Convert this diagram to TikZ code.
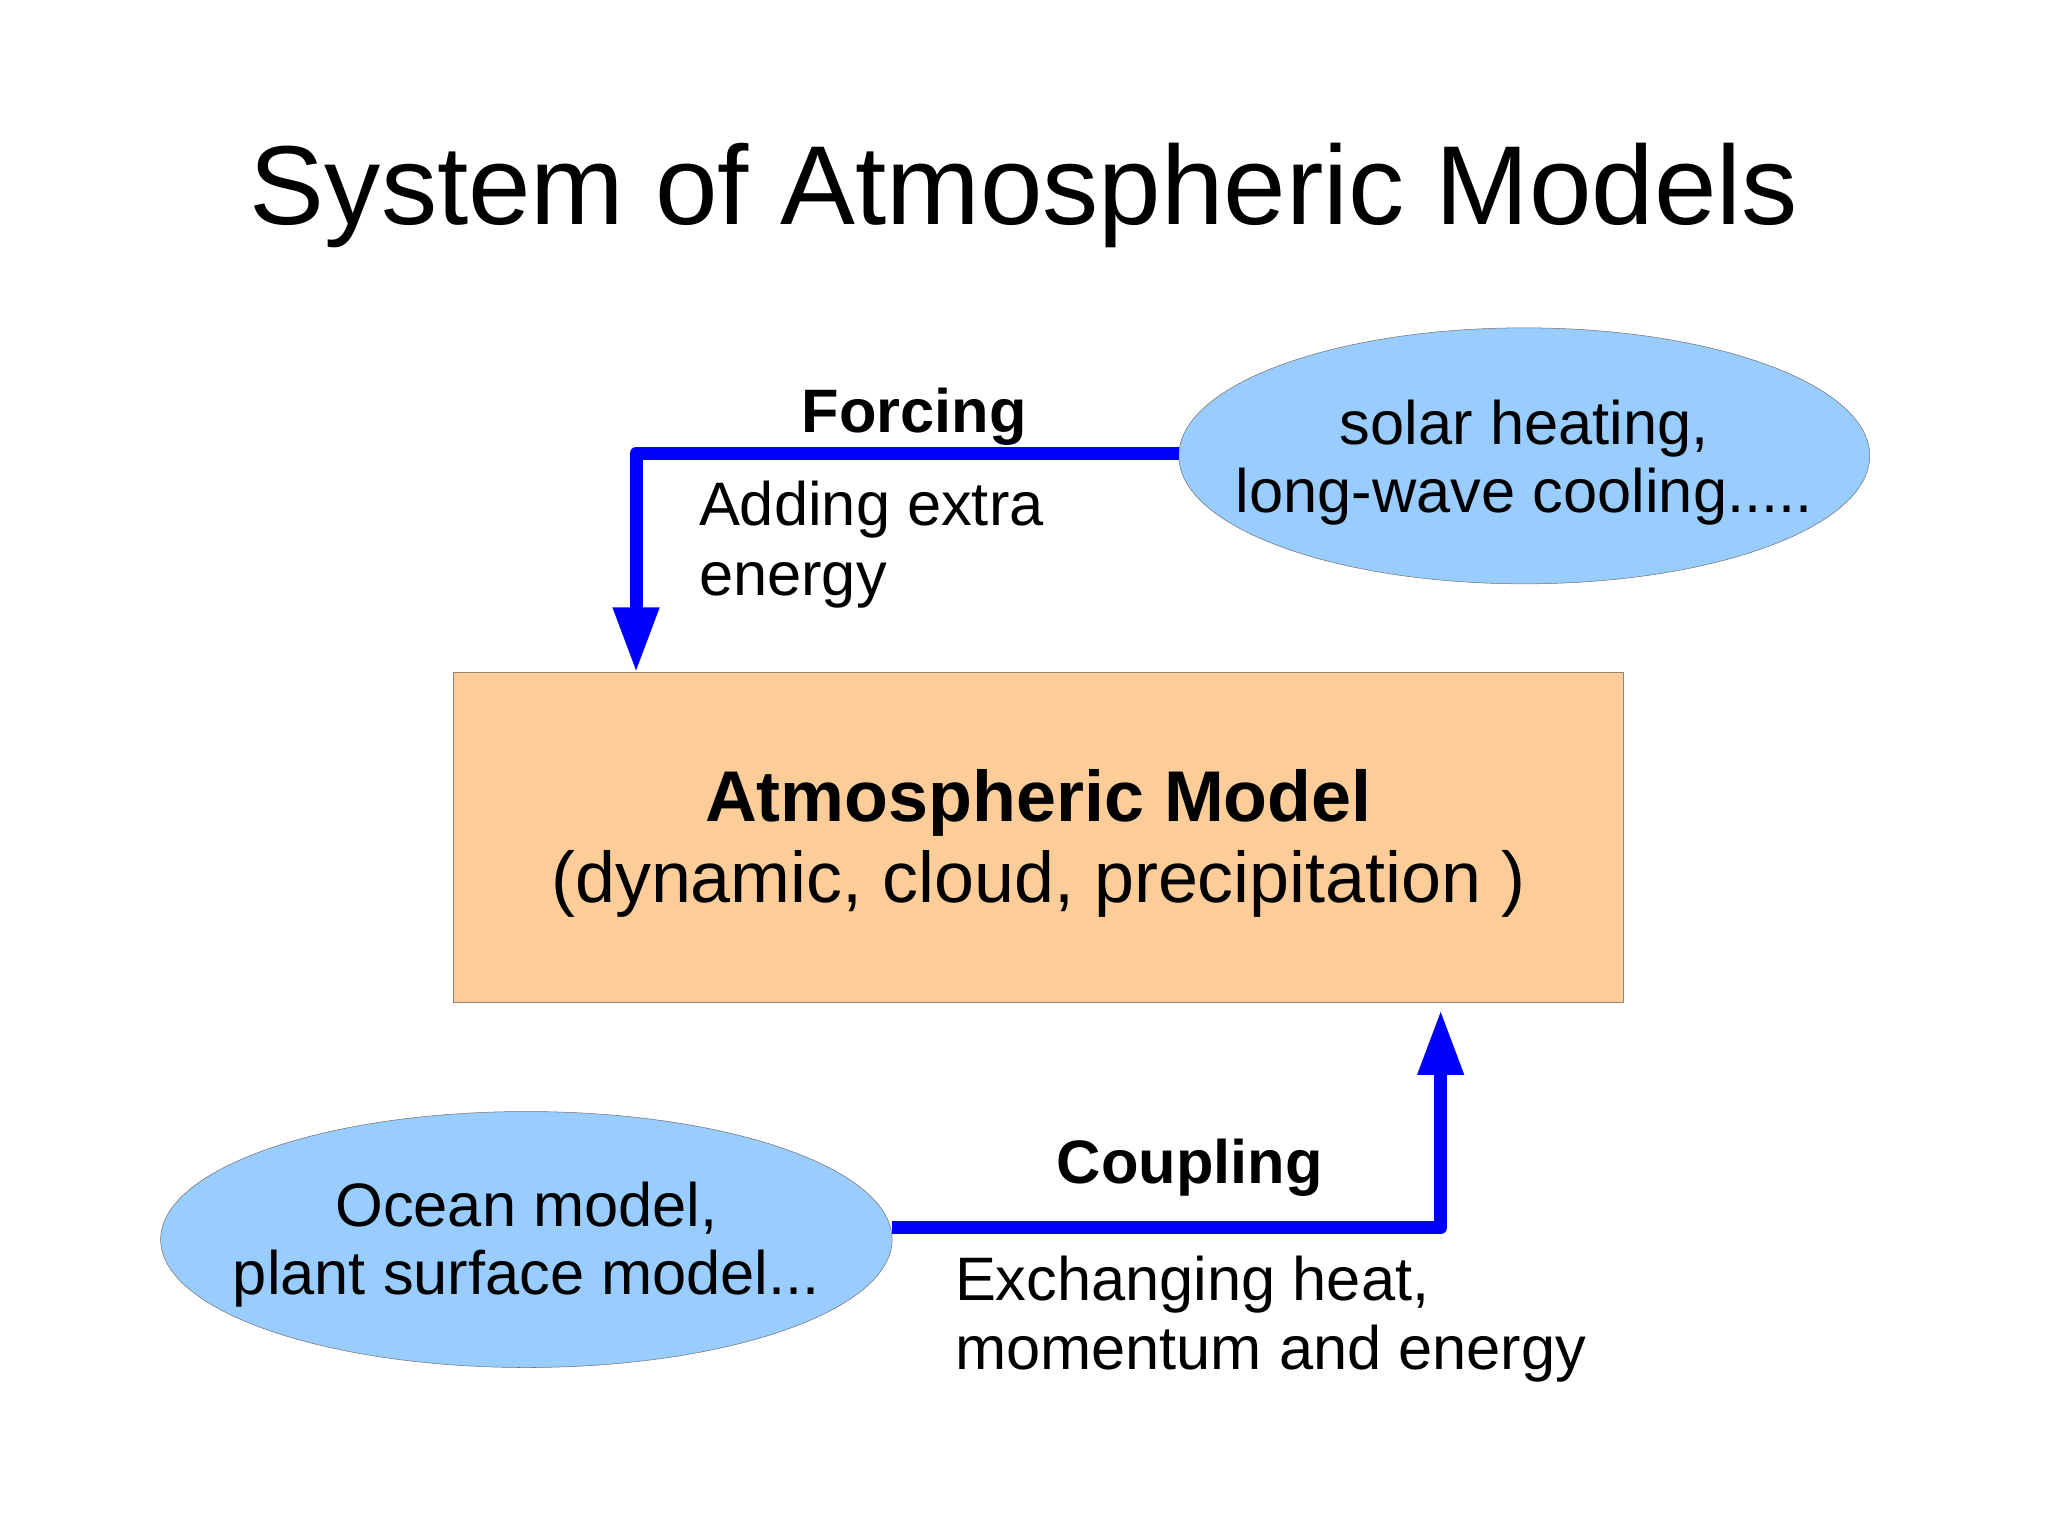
\documentclass[tikz,border=0pt]{standalone}
\usepackage{fontspec}
\setmainfont{Liberation Sans}
\usetikzlibrary{arrows.meta,shapes.geometric,positioning}
\definecolor{skyfill}{RGB}{153,204,255}
\definecolor{peachfill}{RGB}{252,204,153}
\definecolor{boxedge}{RGB}{150,130,110}
\definecolor{flowblue}{RGB}{0,0,255}

\begin{document}
\begin{tikzpicture}
[x=1pt,y=-1pt,
model/.style={ellipse,draw=black!55,fill=skyfill,thin,
inner sep=0pt,minimum height=196pt},
core/.style={rectangle,draw=boxedge,fill=peachfill,thin,
inner sep=0pt,minimum width=896pt,minimum height=252pt},
flow/.style={draw=flowblue,line width=10pt,line join=round,
-{Triangle[width=33pt,length=50pt]}},
note/.style={align=left,inner sep=0pt,font=\fontsize{47}{53}\selectfont},
modeltext/.style={align=center,inner sep=0pt,font=\fontsize{47}{52}\selectfont}]
\useasboundingbox[fill=white] (0,0) rectangle (1568,1175);
\node at (784,150) [font=\fontsize{86}{94}\selectfont] (title){System of Atmospheric Models};
% models
\node at (1167,349) [model,minimum width=529pt] (sun){};
\node at ([yshift=-5pt]sun) [modeltext] {solar heating,\\long-wave cooling.....};
\node at (403,949) [model,minimum width=560pt] (ocean){};
\node at ([yshift=-4pt]ocean) [modeltext] {Ocean model,\\plant surface model...};
\node at (795,641) [core] (atmo){};
\node at ([yshift=-5pt]atmo) [align=center,font=\fontsize{55}{62}\selectfont] {\textbf{Atmospheric Model}\\(dynamic, cloud, precipitation )};
% connectors
\coordinate (forcein) at (487,515);
\coordinate (couplein) at (1103,773);
\draw [flow] ([yshift=2pt]sun.west) -| (forcein);
\draw [flow] ([yshift=9pt]ocean.east) -| (couplein);
% labels
\node at (700,319) [note] (forcing){\textbf{Forcing}};
\node at (535,417) [note,anchor=west] (forcingtxt){Adding extra\\energy};
\node at (911,894) [note] (coupling){\textbf{Coupling}};
\node at (731,1010) [note,anchor=west] (couplingtxt){Exchanging heat,\\momentum and energy};
\end{tikzpicture}
\end{document}
